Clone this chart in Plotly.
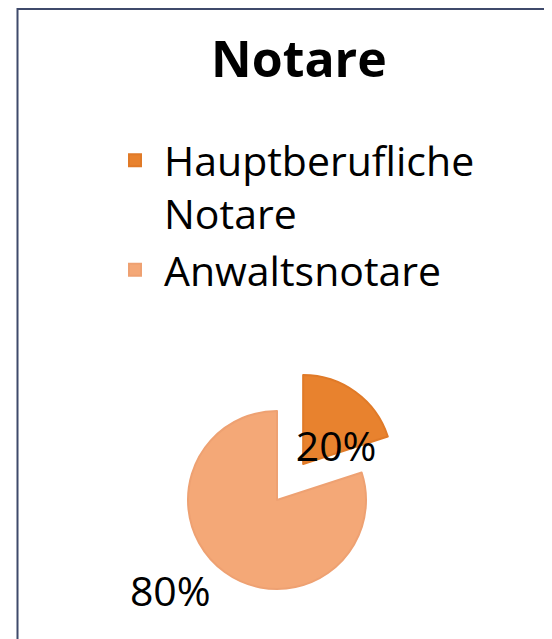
import plotly.graph_objects as go

title_text = "Notare"
labels = ["Hauptberufliche<br>Notare", "Anwaltsnotare"]
values = [20, 80]
colors = ["#E8822E", "#F4A877"]
edge_colors = ["#E07A28", "#EEA172"]
pulls = [0.5, 0]
text_positions = ["inside", "outside"]
text_templates = ["&nbsp;<br>%{percent}", "%{percent}"]

W, H = 552, 639
FONT = "Open Sans"
FS = 41

# pie centre / radius in page pixels (page body has an 8px offset)
OFF = 8
cx, cy, r = 277 - OFF, 500 - OFF, 89
half = r * 1.5

fig = go.Figure()
fig.add_trace(go.Pie(
    labels=labels,
    values=values,
    sort=False,
    direction="clockwise",
    rotation=0,
    pull=pulls,
    marker=dict(colors=colors, line=dict(width=2, color=edge_colors)),
    texttemplate=text_templates,
    textposition=text_positions,
    insidetextorientation="horizontal",
    textfont=dict(family=FONT, size=FS, color="black"),
    domain=dict(x=[(cx - half) / W, (cx + half) / W],
                y=[(H - cy - half) / H, (H - cy + half) / H]),
    showlegend=True,
))

fig.update_layout(
    width=W, height=H,
    margin=dict(l=0, r=0, t=0, b=0, autoexpand=False),
    paper_bgcolor="white",
    plot_bgcolor="white",
    uniformtext=dict(minsize=FS, mode="show"),
    title=dict(text="<b>" + title_text + "</b>", x=(299 - OFF) / W, xanchor="center",
               y=1 - (59 - OFF) / H, yanchor="middle",
               font=dict(family=FONT, size=50, color="black")),
    legend=dict(x=(106 - OFF) / W, xanchor="left", y=1 - (127 - OFF) / H, yanchor="top",
                font=dict(family=FONT, size=FS, color="black"),
                itemwidth=48, valign="top",
                bgcolor="rgba(0,0,0,0)"),
    shapes=[dict(type="rect", xref="paper", yref="paper",
                 x0=(17.5 - OFF) / W, x1=1.05, y0=-0.05, y1=1 - 1 / H,
                 line=dict(color="#3F4A6B", width=2), fillcolor="rgba(0,0,0,0)",
                 layer="below")],
)

fig.write_html("out.html")
